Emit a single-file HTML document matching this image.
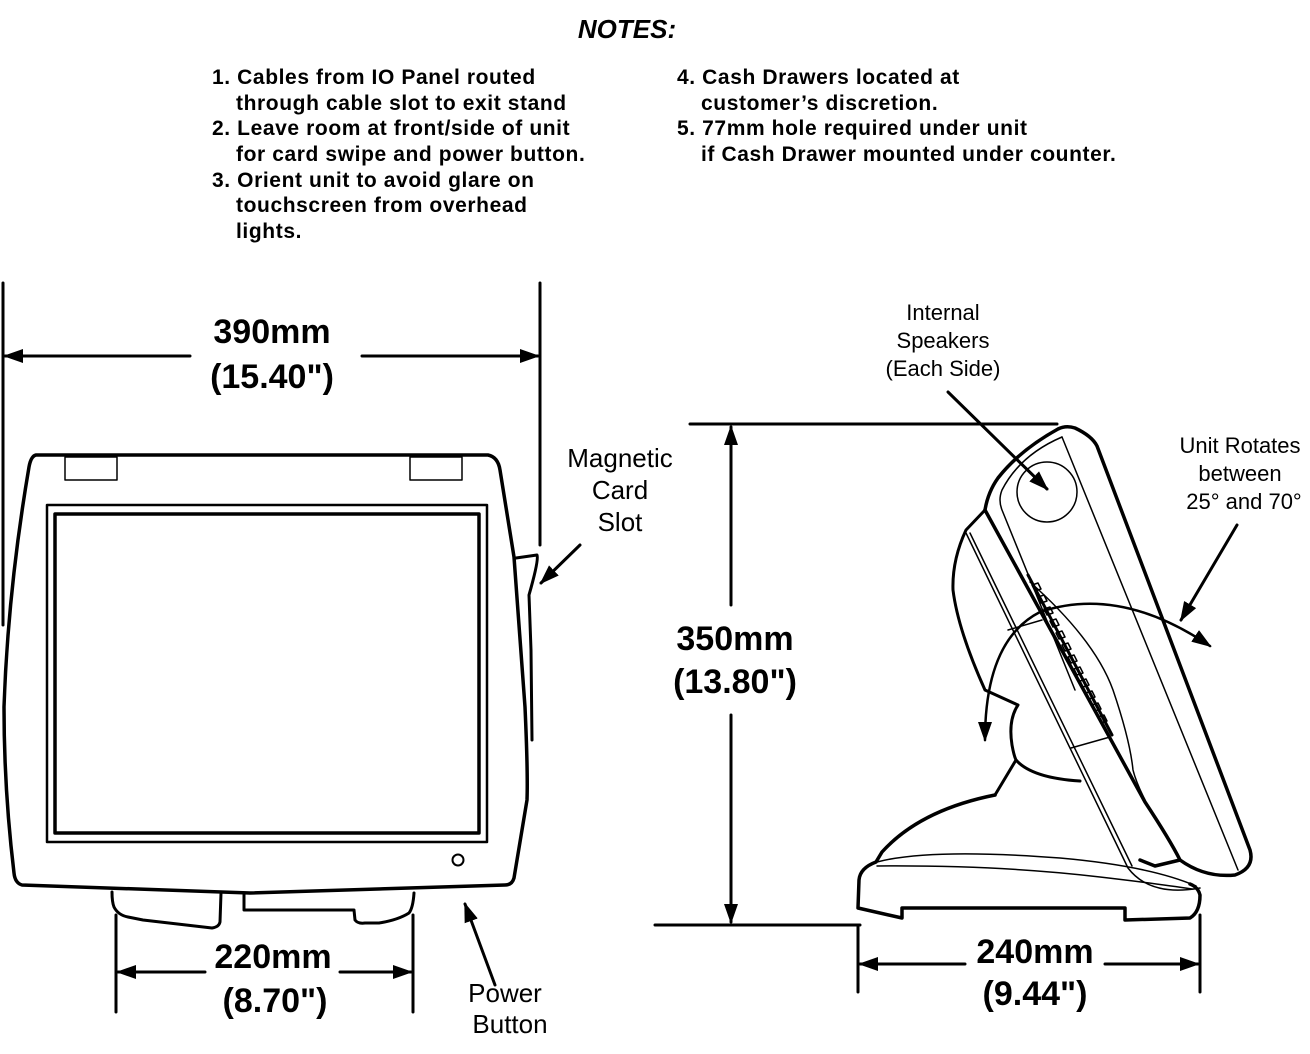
<!DOCTYPE html>
<html><head><meta charset="utf-8"><style>
html,body{margin:0;padding:0;background:#fff;}
svg{display:block;}
text{font-family:"Liberation Sans",Arial,sans-serif;fill:#000;}
.n{font-size:21px;font-weight:bold;letter-spacing:0.6px;}
.d{font-size:34px;font-weight:bold;text-anchor:middle;}
.l{font-size:26px;text-anchor:middle;}
.s{font-size:22px;text-anchor:middle;}
</style></head><body>
<svg width="1310" height="1054" viewBox="0 0 1310 1054" xmlns="http://www.w3.org/2000/svg">
<defs>
<marker id="a" viewBox="0 0 10 10" refX="9" refY="5" markerWidth="20" markerHeight="14" orient="auto-start-reverse" markerUnits="userSpaceOnUse" preserveAspectRatio="none"><path d="M0,0 L10,5 L0,10 z" fill="#000"/></marker>
</defs>

<text x="627" y="38" text-anchor="middle" style="font-size:26px;font-weight:bold;font-style:italic">NOTES:</text>
<text x="212" y="84" class="n">1. Cables from IO Panel routed</text>
<text x="236" y="110" class="n">through cable slot to exit stand</text>
<text x="212" y="135" class="n">2. Leave room at front/side of unit</text>
<text x="236" y="161" class="n">for card swipe and power button.</text>
<text x="212" y="187" class="n">3. Orient unit to avoid glare on</text>
<text x="236" y="212" class="n">touchscreen from overhead</text>
<text x="236" y="238" class="n">lights.</text>
<text x="677" y="84" class="n">4. Cash Drawers located at</text>
<text x="701" y="110" class="n">customer’s discretion.</text>
<text x="677" y="135" class="n">5. 77mm hole required under unit</text>
<text x="701" y="161" class="n">if Cash Drawer mounted under counter.</text>

<g fill="none" stroke="#000" stroke-linejoin="round" stroke-linecap="round">
<path d="M36,455 L488,455 Q498,457 500,470 L514,557 L525,707 Q528,773 527,800 L514,878 Q512,885 505,885 L250,893 L22,885 Q15,883 14,873 Q4,790 4,707 Q8,590 29,467 Q31,456 36,455 Z" stroke-width="3.5"/>
<path d="M516,558 L537,555 Q539,560 529,595 L531,650 L532,740" stroke-width="3"/>
<rect x="65" y="457" width="52" height="23" stroke-width="1.5"/>
<rect x="410" y="457" width="52" height="23" stroke-width="1.5"/>
<rect x="47" y="505" width="440" height="337" stroke-width="2.5"/>
<rect x="55" y="514" width="424" height="319" stroke-width="3.5"/>
<circle cx="458" cy="860" r="5.5" stroke-width="2"/>
<path d="M112,892 Q112,902 114,907 Q118,915 128,917 L143,920 L212,928 Q219,927 220,922 L221,893" stroke-width="3"/>
<path d="M244,893 L244,910 L354,910 L355,920 Q358,924 365,923 L379,923 Q398,920 409,913 Q413,908 414,893" stroke-width="3"/>

<line x1="3" y1="283" x2="3" y2="625" stroke-width="3"/>
<line x1="540" y1="283" x2="540" y2="545" stroke-width="3"/>
<line x1="190" y1="356" x2="5" y2="356" stroke-width="3" marker-end="url(#a)"/>
<line x1="362" y1="356" x2="538" y2="356" stroke-width="3" marker-end="url(#a)"/>
<line x1="116" y1="915" x2="116" y2="1012" stroke-width="3"/>
<line x1="413" y1="915" x2="413" y2="1012" stroke-width="3"/>
<line x1="205" y1="972" x2="118" y2="972" stroke-width="3" marker-end="url(#a)"/>
<line x1="340" y1="972" x2="411" y2="972" stroke-width="3" marker-end="url(#a)"/>
<line x1="495" y1="985" x2="465" y2="904" stroke-width="3" marker-end="url(#a)"/>
<line x1="580" y1="545" x2="541" y2="583" stroke-width="3" marker-end="url(#a)"/>

<line x1="690" y1="424" x2="1057" y2="424" stroke-width="3"/>
<line x1="655" y1="925" x2="860" y2="925" stroke-width="3"/>
<line x1="731" y1="605" x2="731" y2="427" stroke-width="3" marker-end="url(#a)"/>
<line x1="731" y1="715" x2="731" y2="922" stroke-width="3" marker-end="url(#a)"/>
<line x1="858" y1="925" x2="858" y2="992" stroke-width="3"/>
<line x1="1200" y1="915" x2="1200" y2="992" stroke-width="3"/>
<line x1="965" y1="964" x2="860" y2="964" stroke-width="3" marker-end="url(#a)"/>
<line x1="1105" y1="964" x2="1198" y2="964" stroke-width="3" marker-end="url(#a)"/>
<line x1="948" y1="392" x2="1047" y2="489" stroke-width="3" marker-end="url(#a)"/>
<line x1="1237" y1="525" x2="1181" y2="620" stroke-width="3" marker-end="url(#a)"/>

<path d="M995,795 Q920,810 882,852 L876,862 Q860,868 859,880 L858,908 L902,918 L902,908 L1125,908 L1125,920 L1190,918 Q1200,912 1200,895 Q1198,887 1190,884" stroke-width="3.5"/>
<path d="M877,862 Q930,848 1060,858 Q1150,866 1196,886" stroke-width="1.5"/>
<path d="M877,866 Q1000,865 1100,877 Q1160,884 1192,889" stroke-width="1.5"/>
<path d="M995,795 L1016,760" stroke-width="3"/>
<path d="M1016,760 Q1032,778 1080,781" stroke-width="3"/>
<path d="M985,510 L966,530 Q952,560 953,590 Q958,630 985,690 L1018,705 Q1008,720 1012,745 Q1014,756 1016,760" stroke-width="3"/>
<path d="M966,533 L1128,868 Q1150,897 1200,888" stroke-width="1.5"/>
<path d="M970,533 L1132,866" stroke-width="1.5"/>
<path d="M985,510 L1145,802 Q1170,840 1180,860 L1155,866 L1140,860" stroke-width="3.5"/>
<path d="M1030,582 Q1095,640 1113,690 Q1130,740 1133,770 Q1136,782 1145,800" stroke-width="1.5"/>
<path d="M1008,630 L1042,620" stroke-width="1.5"/>
<path d="M1071,748 L1110,737" stroke-width="1.5"/>
<g stroke-width="1.5">
<path d="M1032,585 l6,-2 l3,6 l-6,2 z"/><path d="M1038,597 l6,-2 l3,6 l-6,2 z"/><path d="M1044,609 l6,-2 l3,6 l-6,2 z"/><path d="M1050,621 l6,-2 l3,6 l-6,2 z"/><path d="M1056,633 l6,-2 l3,6 l-6,2 z"/><path d="M1062,645 l6,-2 l3,6 l-6,2 z"/><path d="M1068,657 l6,-2 l3,6 l-6,2 z"/><path d="M1074,669 l6,-2 l3,6 l-6,2 z"/><path d="M1080,681 l6,-2 l3,6 l-6,2 z"/><path d="M1086,693 l6,-2 l3,6 l-6,2 z"/><path d="M1092,705 l6,-2 l3,6 l-6,2 z"/><path d="M1098,717 l6,-2 l3,6 l-6,2 z"/>
</g>
<path d="M1028,575 L1112,735" stroke-width="3"/>
<path d="M985,510 Q988,492 998,478 Q1020,450 1058,429 Q1066,425 1075,428 Q1092,436 1097,446 L1250,850 Q1255,868 1235,875 Q1205,878 1180,860" stroke-width="3.5"/>
<path d="M1062,437 L1238,870" stroke-width="1.5"/>
<path d="M1062,437 Q1020,455 1002,490 Q998,500 1002,510 L1075,690" stroke-width="1.5"/>
<circle cx="1047" cy="492" r="30" stroke-width="1.5"/>
<path d="M985,740 Q985,640 1040,612 Q1120,585 1210,646" stroke-width="2.5" marker-start="url(#a)" marker-end="url(#a)"/>
</g>

<text x="272" y="343" class="d">390mm</text>
<text x="272" y="388" class="d">(15.40")</text>
<text x="273" y="968" class="d">220mm</text>
<text x="275" y="1012" class="d">(8.70")</text>
<text x="735" y="650" class="d">350mm</text>
<text x="735" y="693" class="d">(13.80")</text>
<text x="1035" y="963" class="d">240mm</text>
<text x="1035" y="1005" class="d">(9.44")</text>
<text x="620" y="467" class="l">Magnetic</text>
<text x="620" y="499" class="l">Card</text>
<text x="620" y="531" class="l">Slot</text>
<text x="505" y="1002" class="l">Power</text>
<text x="510" y="1033" class="l">Button</text>
<text x="943" y="320" class="s">Internal</text>
<text x="943" y="348" class="s">Speakers</text>
<text x="943" y="376" class="s">(Each Side)</text>
<text x="1240" y="453" class="s">Unit Rotates</text>
<text x="1240" y="481" class="s">between</text>
<text x="1244" y="509" class="s">25° and 70°</text>
</svg>
</body></html>
